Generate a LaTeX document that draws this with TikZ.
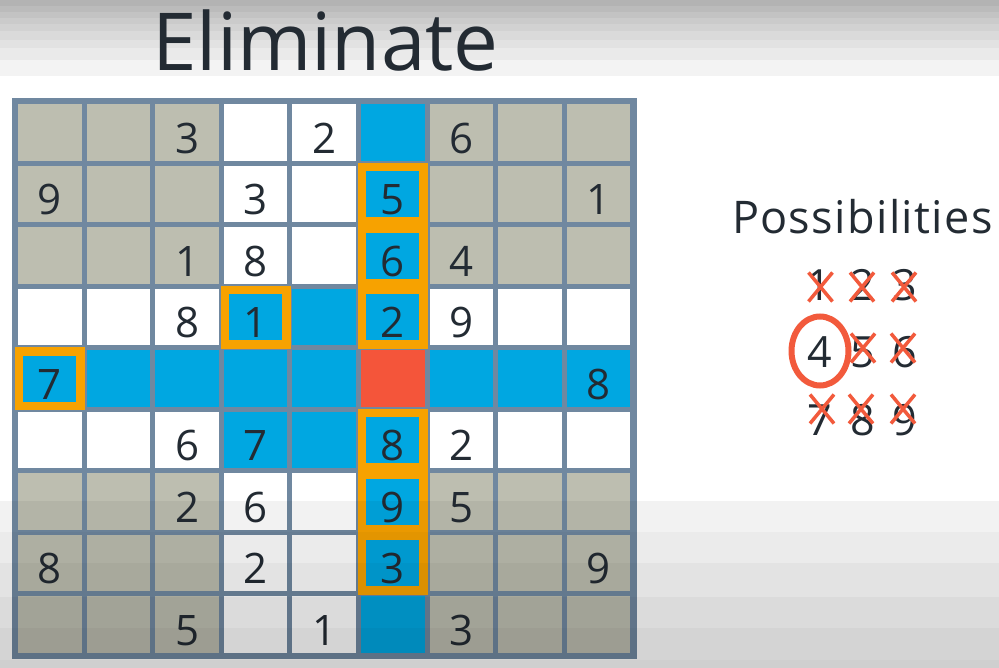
\documentclass[tikz,border=0pt]{standalone}
\usepackage{fontspec}
\setmainfont{Open Sans}
\definecolor{gridc}{RGB}{112,136,160}
\definecolor{c0}{RGB}{189,190,176}
\definecolor{c1}{RGB}{255,255,255}
\definecolor{c2}{RGB}{0,167,225}
\definecolor{c3}{RGB}{244,85,58}
\definecolor{orc}{RGB}{247,162,0}
\definecolor{txt}{RGB}{35,43,51}
\definecolor{xred}{RGB}{242,90,60}
\tikzset{
  cellbox/.style={draw=none,minimum width=63.61pt,minimum height=56.5pt,inner sep=0pt,outer sep=0pt},
  digit/.style={anchor=base,inner sep=0pt,text=txt,font=\fontsize{42}{42}\selectfont},
  pdigit/.style={anchor=base,inner sep=0pt,text=txt,font=\fontsize{43}{43}\selectfont},
  obox/.style={draw=orc,line width=8.5pt},
  xmark/.style={draw=xred,line width=3.5pt},
  ring/.style={draw=xred,line width=6pt},
}
\begin{document}
\begin{tikzpicture}[x=1pt,y=-1pt]
\useasboundingbox (0,0) rectangle (999,668);
\fill[white] (0,0) rectangle (999,668);
% top gradient bands
\foreach \ya/\yb/\g in {0/5.7/179,5.7/12/187,12/18/195,18/24/203,24/31/210,31/40/218,40/48/226,48/60/234,60/76/243}{
  \definecolor{bandc}{RGB}{\g,\g,\g}
  \fill[bandc] (0,\ya) rectangle (999,\yb);
}
% title
\node[anchor=base,inner sep=0pt,text=txt,font=\fontsize{80}{80}\selectfont] (title) at (325.5,70.5) {Eliminate};
% grid frame
\fill[gridc] (12,98.3) rectangle (636.5,658.8);
\foreach \r in {1,...,9}{
  \foreach \c in {1,...,9}{
    \pgfmathtruncatemacro\inr{and(\r>3,\r<7)}
    \pgfmathtruncatemacro\inc{and(\c>3,\c<7)}
    \pgfmathtruncatemacro\t{(\r==5 && \c==6) ? 3 : ((\r==5 || \c==6 || (\inr==1 && \inc==1)) ? 2 : ((\inr != \inc) ? 1 : 0))}
    \node[cellbox,fill=c\t] (c-\r-\c) at ({15.5+68.61*(\c-0.5)},{101.8+61.5*(\r-0.5)}) {};
  }
}
% digits
\foreach \r/\c/\d in {1/3/3,1/5/2,1/7/6,2/1/9,2/4/3,2/6/5,2/9/1,3/3/1,3/4/8,3/6/6,3/7/4,
  4/3/8,4/4/1,4/6/2,4/7/9,5/1/7,5/9/8,6/3/6,6/4/7,6/6/8,6/7/2,7/3/2,7/4/6,7/6/9,7/7/5,
  8/1/8,8/4/2,8/6/3,8/9/9,9/3/5,9/5/1,9/7/3}{
  \node[digit] (d-\r-\c) at ({15.5+68.61*(\c-0.5)},{101.8+61.5*\r-10}) {\d};
}
% orange boxes
\foreach \r/\c in {2/6,3/6,4/6,6/6,7/6,8/6,4/4,5/1}{
  \draw[obox] ([shift={(1,1)}]c-\r-\c.north west) rectangle ([shift={(-1,-1)}]c-\r-\c.south east);
}
% possibilities
\node[anchor=base,inner sep=0pt,text=txt,font=\fontsize{45}{45}\selectfont\addfontfeature{LetterSpace=3}] (poss) at (862.3,233.3) {Possibilities};
\foreach \d/\x/\y in {1/819/300.5,2/862.5/300.5,3/905/300.5,4/820/367,5/862.5/367,6/905/367,7/820/435,8/862.5/435,9/905/435}{
  \node[pdigit] (p\d) at (\x,\y) {\d};
}
\foreach \n/\x/\y in {1/820.5/287,2/862/287,3/904/287,5/863/348,6/903/348,7/822/409,8/861/409,9/903/409}{
  \coordinate (x\n) at (\x,\y);
  \draw[xmark] (x\n) +(-12,-14.5) -- +(12,14.5) (x\n) +(12,-14.5) -- +(-12,14.5);
}
\coordinate (ringc) at (820,351);
\draw[ring] (ringc) ellipse [x radius=28.5,y radius=34.5];
% bottom overlay bands
\foreach \ya/\yb/\o in {500.7/531.7/0.05,531.7/563/0.08,563/596.7/0.11,596.7/628.3/0.14,628.3/660/0.17,660/668/0.19}{
  \fill[black,fill opacity=\o] (0,\ya) rectangle (999,\yb);
}
\end{tikzpicture}
\end{document}
